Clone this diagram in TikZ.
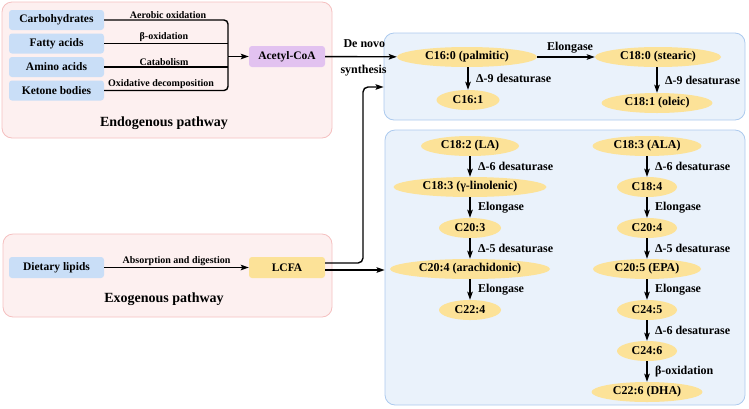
\documentclass[tikz,border=0pt]{standalone}
\usepackage{fontspec}
\setmainfont{Liberation Serif}
\usetikzlibrary{shapes.geometric,arrows.meta}

\definecolor{srcblue}{RGB}{201,222,247}
\definecolor{pinkfill}{RGB}{253,240,240}
\definecolor{pinkline}{RGB}{245,192,192}
\definecolor{bluefill}{RGB}{234,242,251}
\definecolor{blueline}{RGB}{172,202,238}
\definecolor{fayellow}{RGB}{252,226,152}
\definecolor{acpurple}{RGB}{226,194,240}

\tikzset{
	pinkpanel/.style={draw=pinkline, fill=pinkfill, rounded corners=10pt, line width=0.8pt},
	bluepanel/.style={draw=blueline, fill=bluefill, rounded corners=10pt, line width=0.8pt},
	srcbox/.style={fill=srcblue, rounded corners=3pt, minimum width=95pt, minimum height=20pt, inner sep=0pt, font=\fontsize{11.5}{13}\selectfont\bfseries},
	hubbox/.style={rounded corners=3pt, minimum width=76pt, minimum height=21pt, inner sep=0pt, font=\fontsize{11.5}{13}\selectfont\bfseries},
	fa/.style={ellipse, fill=fayellow, inner sep=0pt, minimum height=20pt, font=\fontsize{12}{14}\selectfont\bfseries},
	flow/.style={line width=1.4pt, -{Stealth[length=8pt,width=5.5pt,inset=1.5pt]}},
	link/.style={line width=1.4pt},
	lbl/.style={font=\fontsize{10}{12}\selectfont\bfseries, inner sep=1.5pt},
	enz/.style={right, xshift=4pt, font=\fontsize{12}{14}\selectfont\bfseries},
	ttl/.style={font=\fontsize{14}{16}\selectfont\bfseries}
}

\begin{document}
\begin{tikzpicture}[x=1pt,y=-1pt]
	\useasboundingbox (0,0) rectangle (749,408);
	% Panels
	\node[pinkpanel, minimum width=330pt, minimum height=136pt] (endo) at (167,70) {}; % Endogenous
	\node[pinkpanel, minimum width=329pt, minimum height=83pt] (exo) at (167.5,275.5) {}; % Exogenous
	\node[bluepanel, minimum width=361pt, minimum height=87pt] (satbox) at (564.5,76.5) {}; % Saturated
	\node[bluepanel, minimum width=360pt, minimum height=275pt] (pufabox) at (565,267.5) {}; % Polyunsaturated
	\node[ttl] (endottl) at (164,123) {Endogenous pathway};
	\node[ttl] (exottl) at (164,299) {Exogenous pathway};

	% Endogenous sources
	\node[srcbox] (carb) at (56.5,20) {Carbohydrates};
	\node[srcbox] (fatty) at (56.5,43.5) {Fatty acids};
	\node[srcbox] (amino) at (56.5,67) {Amino acids};
	\node[srcbox] (ketone) at (56.5,90.5) {Ketone bodies};
	\node[hubbox, fill=acpurple] (acetyl) at (287,56.5) {Acetyl-CoA};
	\coordinate (merge) at (228,56.5);
	\draw[link, rounded corners=4pt] (carb.east) -| (merge);
	\draw[link] (fatty.east) -- (fatty.east -| merge);
	\draw[link] (amino.east) -- (amino.east -| merge);
	\draw[link, rounded corners=4pt] (ketone.east) -| (merge);
	\draw[flow] (merge) -- (acetyl.west);
	\node[lbl, above] (aerlbl) at (168,20) {Aerobic oxidation};
	\node[lbl, above] (betalbl) at (164,43.5) {β-oxidation};
	\node[lbl, above] (catlbl) at (164,67) {Catabolism};
	\node[lbl, above] (oxlbl) at (161,90.5) {Oxidative decomposition};

	% Exogenous source
	\node[srcbox, minimum height=21pt] (diet) at (56.5,267.5) {Dietary lipids};
	\node[hubbox, fill=fayellow] (lcfa) at (287,267.5) {LCFA};
	\draw[flow] (diet) -- node[lbl, above] (abslbl) {Absorption and digestion} (lcfa);

	% Saturated and monounsaturated
	\node[fa, minimum width=140pt] (palm) at (467,57) {C16:0 (palmitic)};
	\node[fa, minimum width=126pt] (stear) at (658,57) {C18:0 (stearic)};
	\node[fa, minimum width=63pt] (c161) at (468,100) {C16:1};
	\node[fa, minimum width=111pt] (oleic) at (657,103) {C18:1 (oleic)};
	\draw[flow] (acetyl) -- (palm);
	\node[enz, right=0pt] (denovo) at (336,44) {De novo};
	\node[enz, right=0pt] (synth) at (333,71) {synthesis};
	\draw[flow] (palm) -- node[enz, above, xshift=0pt] (elo1) {Elongase} (stear);
	\draw[flow] (palm.south -| c161) -- node[enz] (d9a) {Δ-9 desaturase} (c161);
	\draw[flow] (stear.south -| oleic) -- node[enz] (d9b) {Δ-9 desaturase} (oleic);

	% LCFA into both pathways
	\coordinate (jn) at (363,87);
	\draw[flow, rounded corners=5pt] ([yshift=4.5pt]lcfa.east) -| (jn) -- (jn -| satbox.west);
	\draw[flow] ([yshift=-2.5pt]lcfa.east) -- ([yshift=-2.5pt]lcfa.east -| pufabox.west);

	% Omega-6 series
	\node[fa, minimum width=98pt] (la) at (470,146) {C18:2 (LA)};
	\node[fa, minimum width=153pt] (gla) at (470,187) {C18:3 (γ-linolenic)};
	\node[fa, minimum width=62pt] (c203) at (470,228) {C20:3};
	\node[fa, minimum width=160pt] (ara) at (470,269) {C20:4 (arachidonic)};
	\node[fa, minimum width=62pt] (c224) at (470,310) {C22:4};
	\draw[flow] (la) -- node[enz] (d6a) {Δ-6 desaturase} (gla);
	\draw[flow] (gla) -- node[enz] (elo2) {Elongase} (c203);
	\draw[flow] (c203) -- node[enz] (d5a) {Δ-5 desaturase} (ara);
	\draw[flow] (ara) -- node[enz] (elo3) {Elongase} (c224);

	% Omega-3 series
	\node[fa, minimum width=109pt] (ala) at (647,146) {C18:3 (ALA)};
	\node[fa, minimum width=60pt] (c184) at (647,187) {C18:4};
	\node[fa, minimum width=60pt] (c204) at (647,228) {C20:4};
	\node[fa, minimum width=108pt] (epa) at (647,269) {C20:5 (EPA)};
	\node[fa, minimum width=60pt] (c245) at (647,310) {C24:5};
	\node[fa, minimum width=60pt] (c246) at (647,351) {C24:6};
	\node[fa, minimum width=111pt] (dha) at (647,392) {C22:6 (DHA)};
	\draw[flow] (ala) -- node[enz] (d6b) {Δ-6 desaturase} (c184);
	\draw[flow] (c184) -- node[enz] (elo4) {Elongase} (c204);
	\draw[flow] (c204) -- node[enz] (d5b) {Δ-5 desaturase} (epa);
	\draw[flow] (epa) -- node[enz] (elo5) {Elongase} (c245);
	\draw[flow] (c245) -- node[enz] (d6c) {Δ-6 desaturase} (c246);
	\draw[flow] (c246) -- node[enz] (betaox) {β-oxidation} (dha);
\end{tikzpicture}
\end{document}
